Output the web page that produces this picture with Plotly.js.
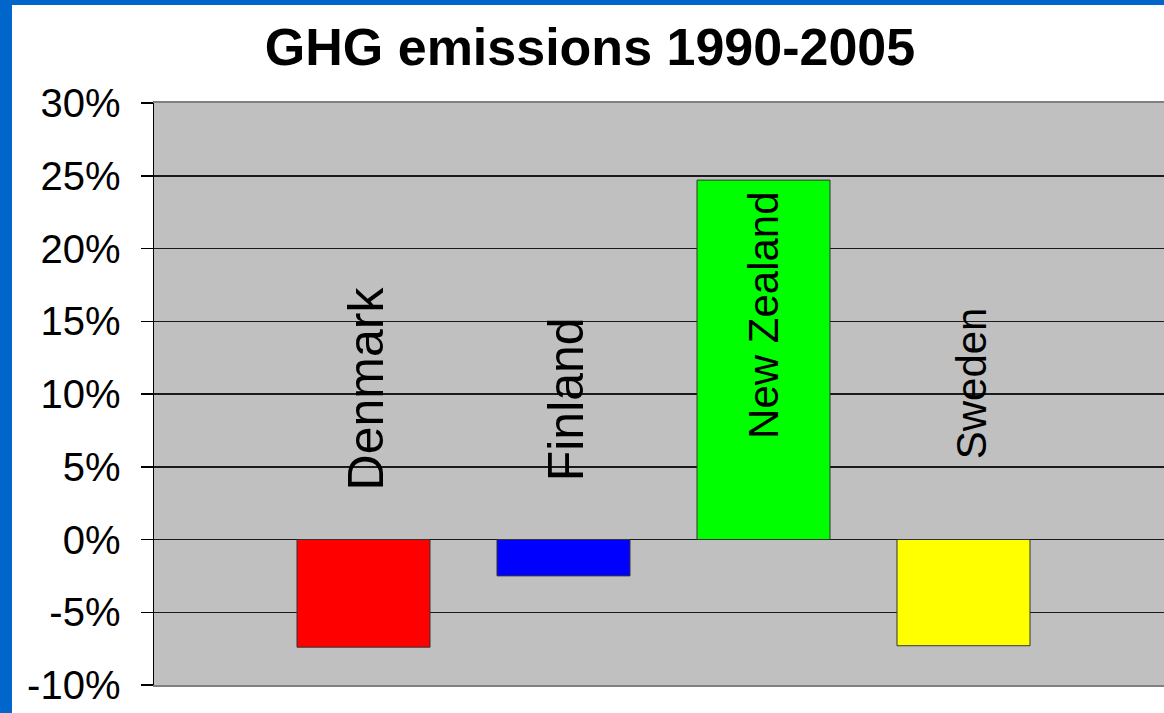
<!DOCTYPE html>
<html>
<head>
<meta charset="utf-8">
<script src="https://cdn.plot.ly/plotly-3.0.1.min.js"></script>
<style>
  html, body { margin: 0; padding: 0; width: 1164px; height: 713px; overflow: hidden; background: #0066CC; }
  #chart { position: absolute; left: 12px; top: 5px; width: 1152px; height: 708px; background: #ffffff; }
</style>
</head>
<body>
<div id="chart"></div>
<script>
const countries = ["Denmark", "Finland", "New Zealand", "Sweden"];
const changePct = [-7.4, -2.5, 24.7, -7.3];
const barColors = ["#FF0000", "#0000FF", "#00FF00", "#FFFF00"];
const yTickValues = [-10, -5, 0, 5, 10, 15, 20, 25, 30];
const yTickLabels = ["-10%", "-5%", "0%", "5%", "10%", "15%", "20%", "25%", "30%"];
const labelY = [10.35, 9.6, 15.4, 10.7];
const labelXShift = [2, 2, 0, 8];
const labelSizes = [50, 50, 42, 42];

const trace = {
  type: "bar",
  x: countries,
  y: changePct,
  width: 0.665,
  marker: { color: barColors, line: { color: "#333333", width: 1 } },
  hoverinfo: "x+y"
};

const annotations = countries.map((c, i) => ({
  x: c, y: labelY[i], xref: "x", yref: "y", xshift: labelXShift[i],
  text: c, textangle: -90, showarrow: false,
  xanchor: "center", yanchor: "middle",
  font: { family: "Liberation Sans, Arial, sans-serif", size: labelSizes[i], color: "#000000" }
}));

const layout = {
  width: 1152, height: 708,
  margin: { l: 142, r: 0, t: 98, b: 28, pad: 0 },
  paper_bgcolor: "#FFFFFF",
  plot_bgcolor: "#C0C0C0",
  showlegend: false,
  title: {
    text: "<b>GHG emissions 1990-2005</b>",
    x: 578 / 1152, xref: "container", xanchor: "center",
    y: 1 - 41.5 / 708, yref: "container", yanchor: "middle",
    font: { family: "Liberation Sans, Arial, sans-serif", size: 52, color: "#000000" }
  },
  xaxis: {
    type: "category",
    range: [-1.0475, 4.0025],
    showticklabels: false, ticks: "",
    showgrid: false, zeroline: false,
    showline: true, linecolor: "#808080", linewidth: 2, mirror: true
  },
  yaxis: {
    range: [-10, 30],
    tickvals: yTickValues, ticktext: yTickLabels,
    ticks: "outside", ticklen: 12, tickwidth: 1.5, tickcolor: "#000000",
    ticklabelstandoff: 12,
    showline: true, linecolor: "#000000", linewidth: 1.5,
    showgrid: true, gridcolor: "#1a1a1a", gridwidth: 1.5,
    zeroline: true, zerolinecolor: "#1a1a1a", zerolinewidth: 1.5,
    tickfont: { family: "Liberation Sans, Arial, sans-serif", size: 40, color: "#000000" }
  },
  annotations: annotations
};

Plotly.newPlot("chart", [trace], layout, { staticPlot: true, displayModeBar: false });
</script>
</body>
</html>
